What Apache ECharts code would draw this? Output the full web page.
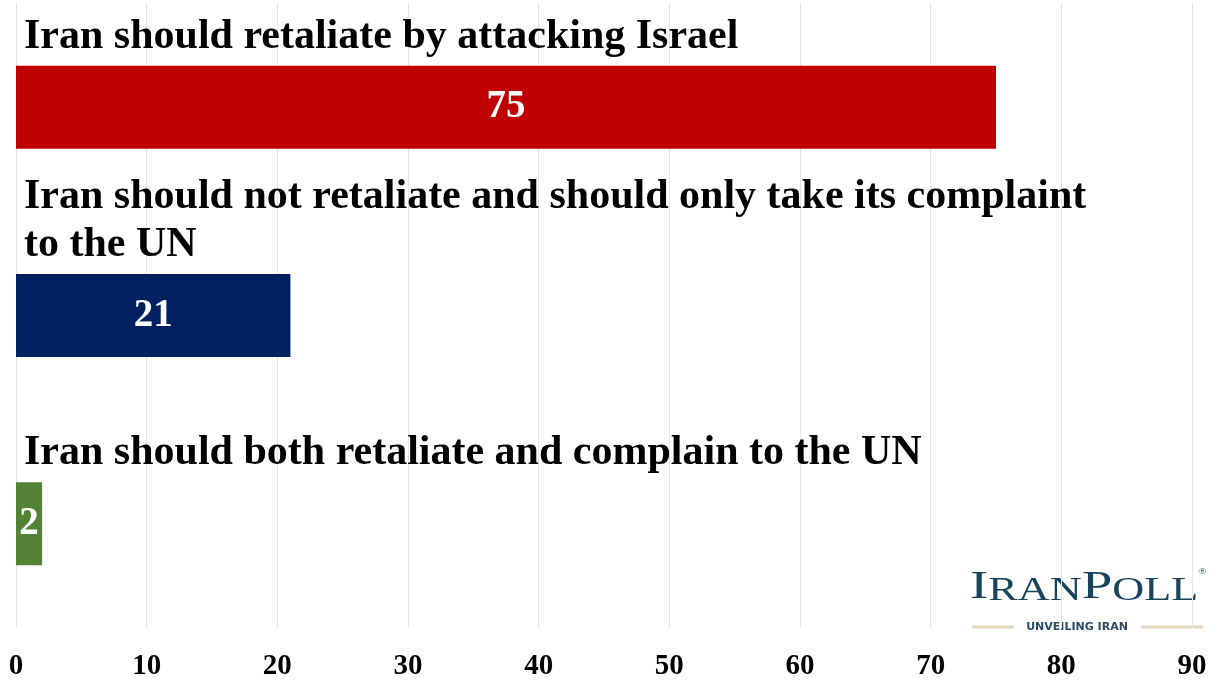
<!DOCTYPE html>
<html>
<head>
<meta charset="utf-8">
<script src="https://cdn.jsdelivr.net/npm/echarts@6/dist/echarts.min.js"></script>
<style>
  html, body { margin: 0; padding: 0; background: #ffffff; }
  #chart { width: 1221px; height: 681px; }
</style>
</head>
<body>
<div id="chart"></div>
<script>
// Survey answers, percentage of respondents
const categories = [
  'Iran should retaliate by attacking Israel',
  'Iran should not retaliate and should only take its complaint to the UN',
  'Iran should both retaliate and complain to the UN'
];
const values = [75, 21, 2];
const barColors = ['#c00000', '#002060', '#548235'];

// Horizontal axis range
const axisMin = 0;
const axisMax = 90;
const axisStep = 10;

const serif = '"Liberation Serif", "Times New Roman", serif';

const chart = echarts.init(document.getElementById('chart'), null, { renderer: 'canvas' });

chart.setOption({
  backgroundColor: '#ffffff',
  animation: false,
  grid: { left: 16, right: 29, top: 3, bottom: 51, containLabel: false },
  xAxis: {
    type: 'value',
    min: axisMin,
    max: axisMax,
    interval: axisStep,
    axisLine: { show: false },
    axisTick: { show: false },
    splitLine: { show: true, lineStyle: { color: '#e4e4e4', width: 1 } },
    axisLabel: {
      margin: 24,
      color: '#000000',
      fontFamily: serif,
      fontWeight: 'bold',
      fontSize: 29
    }
  },
  yAxis: {
    type: 'category',
    inverse: true,
    data: categories,
    axisLine: { show: false },
    axisTick: { show: false },
    axisLabel: { show: false },
    splitLine: { show: false }
  },
  series: [
    {
      // the bars with their values
      type: 'bar',
      data: values,
      barWidth: 83,
      itemStyle: { color: (p) => barColors[p.dataIndex] },
      label: {
        show: true,
        position: 'inside',
        formatter: '{c}',
        color: '#ffffff',
        fontFamily: serif,
        fontWeight: 'bold',
        fontSize: 39
      },
      z: 2
    },
    {
      // answer text written above each bar
      type: 'bar',
      data: values,
      barWidth: 83,
      barGap: '-100%',
      silent: true,
      itemStyle: { color: 'rgba(0,0,0,0)' },
      label: {
        show: true,
        position: [8, -5],
        align: 'left',
        verticalAlign: 'bottom',
        formatter: (p) => categories[p.dataIndex],
        width: 1080,
        overflow: 'break',
        lineHeight: 48,
        color: '#000000',
        fontFamily: serif,
        fontWeight: 'bold',
        fontSize: 42
      },
      z: 3
    }
  ],
  graphic: [
    {
      type: 'text',
      x: 970,
      y: 568,
      scaleX: 1.34,
      style: {
        text: '{b|I}{s|RAN}{b|P}{s|OLL}{r|®}',
        rich: {
          b: { fontFamily: serif, fontSize: 41, fill: '#18445c', verticalAlign: 'bottom', lineHeight: 40 },
          s: { fontFamily: serif, fontSize: 33, fill: '#18445c', verticalAlign: 'bottom', lineHeight: 40 },
          r: { fontFamily: serif, fontSize: 8, fill: '#18445c', verticalAlign: 'top', lineHeight: 40 }
        }
      }
    },
    {
      type: 'line',
      shape: { x1: 972, y1: 627, x2: 1014, y2: 627 },
      style: { stroke: '#e3dabd', lineWidth: 3 }
    },
    {
      type: 'line',
      shape: { x1: 1141, y1: 627, x2: 1203, y2: 627 },
      style: { stroke: '#e3dabd', lineWidth: 3 }
    },
    {
      type: 'text',
      x: 1077,
      y: 627,
      style: {
        text: 'UNVEILING IRAN',
        fontFamily: '"DejaVu Sans", sans-serif',
        fontWeight: 'bold',
        fontSize: 11,
        fill: '#2b4a63',
        align: 'center',
        verticalAlign: 'middle'
      }
    }
  ]
});
</script>
</body>
</html>
